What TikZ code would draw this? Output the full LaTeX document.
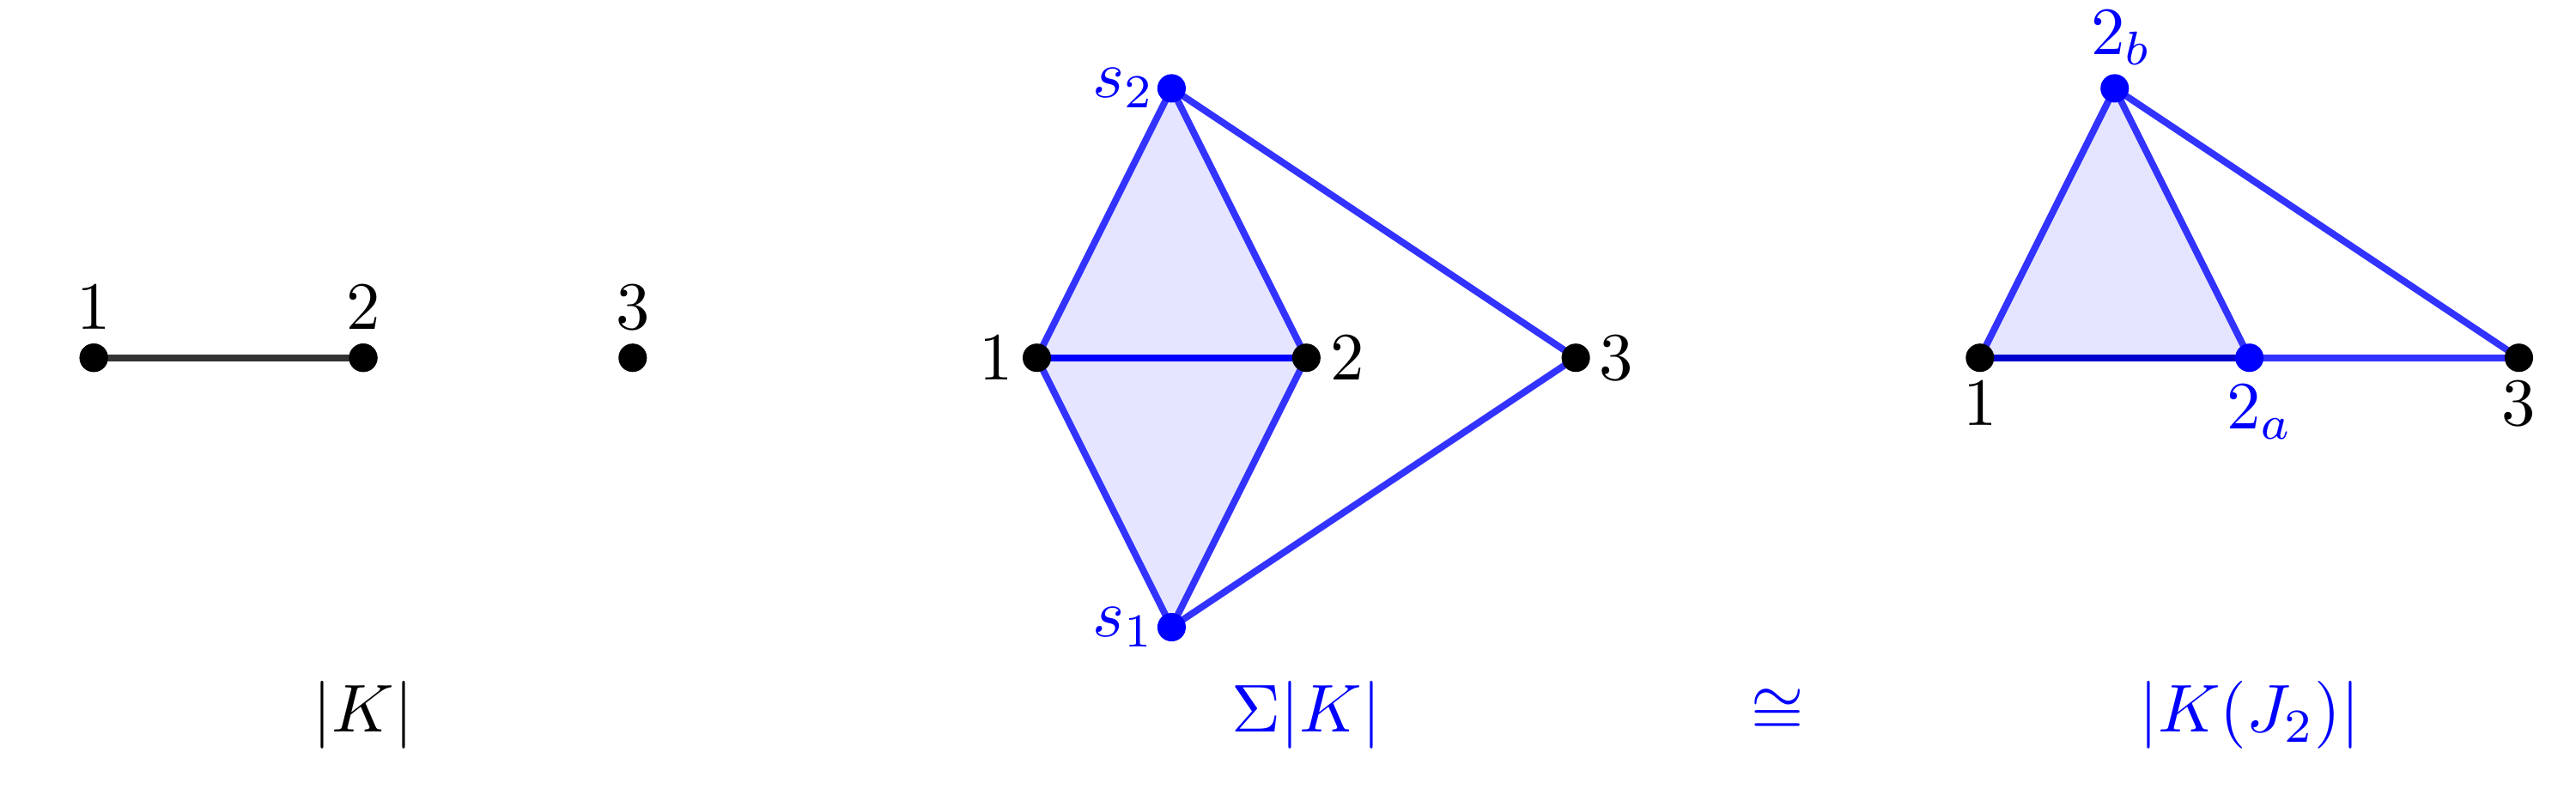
\documentclass[tikz,border=0pt]{standalone}
\begin{document}
\begin{tikzpicture}[x=1.4cm,y=1.4cm,
  vtx/.style={circle,fill=black,inner sep=0pt,minimum size=4.2pt},
  bvtx/.style={vtx,fill=blue},
  edgeline/.style={line width=1pt,blue!80},
  greyline/.style={line width=1pt,black!80},
  face/.style={fill=blue!10},
  blab/.style={text=blue},
  caption/.style={anchor=base}]
\useasboundingbox (-0.348,-1.620) rectangle (9.212,1.328);

% ---------- |K| ----------
\node[vtx] (L1) at (0,0) {};
\node[vtx] (L2) at (1,0) {};
\node[vtx] (L3) at (2,0) {};
\draw[greyline] (L1.center) -- (L2.center);
\node[vtx] at (L1) {};
\node[vtx] at (L2) {};
\node[anchor=base] (lL1) at (0,0.105) {$1$};
\node[anchor=base] (lL2) at (1,0.105) {$2$};
\node[anchor=base] (lL3) at (2,0.105) {$3$};
\node[caption] (capK) at (1,-1.39) {$|K|$};

% ---------- Sigma|K| ----------
\coordinate (M1) at (3.5,0);
\coordinate (M2) at (4.5,0);
\coordinate (M3) at (5.5,0);
\coordinate (S2) at (4,1);
\coordinate (S1) at (4,-1);
\fill[face] (M1) -- (M2) -- (S2) -- cycle;
\fill[face] (M1) -- (M2) -- (S1) -- cycle;
\draw[edgeline] (M1) -- (S2);
\draw[edgeline] (M2) -- (S2);
\draw[edgeline] (M1) -- (S1);
\draw[edgeline] (M2) -- (S1);
\draw[edgeline] (S2) -- (M3);
\draw[edgeline] (S1) -- (M3);
\draw[line width=1pt,blue] (M1) -- (M2);
\node[vtx] (vM1) at (M1) {};
\node[vtx] (vM2) at (M2) {};
\node[vtx] (vM3) at (M3) {};
\node[bvtx] (vS2) at (S2) {};
\node[bvtx] (vS1) at (S1) {};
\node[anchor=east] (lM1) at (M1) {$1$};
\node[anchor=west] (lM2) at (M2) {$2$};
\node[anchor=west] (lM3) at (M3) {$3$};
\node[anchor=east,blab] (lS2) at ([xshift=1pt]S2) {$s_2$};
\node[anchor=east,blab] (lS1) at ([xshift=1pt]S1) {$s_1$};
\node[caption,blab] (capS) at (4.5,-1.39) {$\Sigma|K|$};

% ---------- cong ----------
\node[caption,blab] (capIso) at (6.25,-1.39) {$\cong$};

% ---------- |K(J_2)| ----------
\coordinate (R1) at (7,0);
\coordinate (R2a) at (8,0);
\coordinate (R3) at (9,0);
\coordinate (R2b) at (7.5,1);
\fill[face] (R1) -- (R2a) -- (R2b) -- cycle;
\draw[edgeline] (R1) -- (R2b);
\draw[edgeline] (R2a) -- (R2b);
\draw[edgeline] (R2b) -- (R3);
\draw[edgeline] (R2a) -- (R3);
\draw[line width=1pt,blue!80!black] (R1) -- (R2a);
\node[vtx] (vR1) at (R1) {};
\node[bvtx] (vR2a) at (R2a) {};
\node[vtx] (vR3) at (R3) {};
\node[bvtx] (vR2b) at (R2b) {};
\node[anchor=north] (lR1) at (R1) {$1$};
\node[anchor=north,blab] (lR2a) at ([xshift=1.6pt,yshift=-0.5pt]R2a) {$2_a$};
\node[anchor=north] (lR3) at (R3) {$3$};
\node[anchor=south,blab] (lR2b) at ([xshift=1pt]R2b) {$2_b$};
\node[caption,blab] (capJ) at (8,-1.39) {$|K(J_2)|$};
\end{tikzpicture}
\end{document}
